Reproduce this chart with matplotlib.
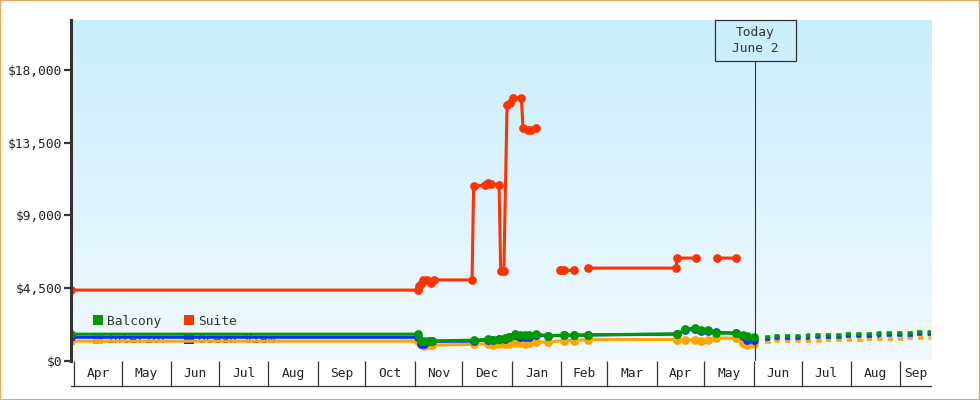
import numpy as np
import matplotlib
matplotlib.use('Agg')
import matplotlib.pyplot as plt
import matplotlib.dates as mdates
import matplotlib.transforms as mtransforms
from matplotlib.colors import LinearSegmentedColormap
from matplotlib.lines import Line2D
from matplotlib.patches import Rectangle
from matplotlib.ticker import FuncFormatter, FixedLocator

# dates where one of the cheaper cabins changed price
cabin_dates = np.array([
    '2023-03-30', '2023-11-03', '2023-11-05', '2023-11-07', '2023-11-10', '2023-11-12',
    '2023-12-08', '2023-12-17', '2023-12-20', '2023-12-24', '2023-12-28', '2023-12-30',
    '2024-01-03', '2024-01-06', '2024-01-09', '2024-01-12', '2024-01-16', '2024-01-24',
    '2024-02-03', '2024-02-09', '2024-02-18', '2024-04-14', '2024-04-19', '2024-04-25',
    '2024-04-29', '2024-05-03', '2024-05-08', '2024-05-21', '2024-05-25', '2024-05-28',
    '2024-06-01'], dtype='datetime64[D]')
balcony = [1634, 1634, 1200, 1180, 1230, 1222,
           1260, 1320, 1300, 1365, 1400, 1480,
           1620, 1560, 1560, 1560, 1620, 1550,
           1577, 1577, 1595, 1650, 1950, 2010,
           1905, 1905, 1700, 1700, 1595, 1490,
           1450]
ocean_view = [1440, 1440, 1050, 1050, 1190, 1190,
              1200, 1280, 1260, 1320, 1350, 1430,
              1560, 1480, 1450, 1480, 1560, 1530,
              1560, 1560, 1580, 1640, 1900, 1950,
              1850, 1850, 1738, 1700, 1550, 1300,
              1300]
interior = [1200, 1200, 1000, 900, 950, 960,
            1000, 1050, 960, 1000, 1050, 1000,
            1100, 1100, 1000, 1100, 1150, 1150,
            1240, 1240, 1300, 1300, 1285, 1285,
            1230, 1285, 1390, 1390, 1080, 975,
            1037]

# suite, nan = not on sale
suite_dates = np.array([
    '2023-03-30', '2023-11-03', '2023-11-04', '2023-11-05', '2023-11-06', '2023-11-09',
    '2023-11-11', '2023-11-13', '2023-12-07', '2023-12-08', '2023-12-15', '2023-12-17',
    '2023-12-19', '2023-12-24', '2023-12-25', '2023-12-27', '2023-12-29', '2023-12-31',
    '2024-01-02', '2024-01-07', '2024-01-08', '2024-01-11', '2024-01-13', '2024-01-16',
    '2024-01-24', '2024-01-31', '2024-02-01', '2024-02-03', '2024-02-09', '2024-02-12',
    '2024-02-18', '2024-04-13', '2024-04-14', '2024-04-26', '2024-05-01', '2024-05-09',
    '2024-05-21'], dtype='datetime64[D]')
suite = [4370, 4370, 4600, 4760, 4965, 5000,
         4820, 5000, 5000, 10800, 10900, 11000,
         10950, 10900, 5570, 5570, 15870, 16010,
         16290, 16290, 14440, 14320, 14320, 14440,
         np.nan, 5590, 5590, 5590, 5600, np.nan,
         5735, 5735, 6356, 6356, np.nan, 6356,
         6356]

# projected prices after today
forecast_dates = np.array([
    '2024-06-08', '2024-06-11', '2024-06-12', '2024-07-05', '2024-07-14', '2024-07-27',
    '2024-08-08', '2024-08-18', '2024-09-04', '2024-09-09', '2024-09-21'], dtype='datetime64[D]')
balcony_forecast = [1450, 1450, 1510, 1595, 1595, 1657, 1657, 1700, 1700, 1760, 1760]
ocean_view_forecast = [1340, 1340, 1400, 1485, 1485, 1547, 1547, 1590, 1590, 1650, 1650]
interior_forecast = [1140, 1222, 1222, 1222, 1285, 1285, 1328, 1328, 1390, 1390, 1390]

today = np.datetime64('2024-06-02')
today_text = 'Today\nJune 2'
month_starts = np.arange('2023-04', '2024-10', dtype='datetime64[M]').astype('datetime64[D]')
y_ticks = [0, 4500, 9000, 13500, 18000]

GREEN = '#009900'
BLUE = '#0033ff'
ORANGE = '#ffa500'
RED = '#ff3300'
INK = '#333333'
FONT = 'DejaVu Sans Mono'

plt.rcParams['font.family'] = FONT
plt.rcParams['font.size'] = 9.3

fig = plt.figure(figsize=(9.8, 4), dpi=100)
ax = fig.add_axes([71 / 980, 39.5 / 400, 860 / 980, 340.5 / 400])

x_left = mdates.date2num(np.datetime64('2023-04-01')) - 1.9
x_right = x_left + 540.2
ax.set_xlim(x_left, x_right)
ax.set_ylim(0, 21130)

# background gradient
grad = LinearSegmentedColormap.from_list('sky', ['#f0f9fe', '#c9eefc'])
ax.imshow(np.linspace(0, 1, 256).reshape(-1, 1), cmap=grad, origin='lower', aspect='auto',
          extent=(0, 1, 0, 1), transform=ax.transAxes, zorder=0)

line_kw = dict(lw=2.2, marker='o', ms=6.3, markeredgewidth=0, solid_capstyle='butt')
ax.plot(cabin_dates, interior, color=ORANGE, zorder=3, **line_kw)
ax.plot(cabin_dates, ocean_view, color=BLUE, zorder=4, **line_kw)
ax.plot(cabin_dates, balcony, color=GREEN, zorder=5, **line_kw)
ax.plot(suite_dates, suite, color=RED, zorder=6, **line_kw)

dash_kw = dict(lw=2.6, drawstyle='steps-post', linestyle=(0, (1.45, 1.45)))
ax.plot(forecast_dates, interior_forecast, color=ORANGE, zorder=3, **dash_kw)
ax.plot(forecast_dates, ocean_view_forecast, color=BLUE, zorder=4, **dash_kw)
ax.plot(forecast_dates, balcony_forecast, color=GREEN, zorder=5, **dash_kw)

# today marker with its box
box_bottom = 0.8805
ax.axvline(today, ymin=0, ymax=box_bottom, color=INK, lw=0.8, zorder=7)
blend = mtransforms.blended_transform_factory(ax.transData, ax.transAxes)
t = mdates.date2num(today)
ax.add_patch(Rectangle((t - 25.3, box_bottom), 50.6, 1 - box_bottom, transform=blend,
                       fill=False, ec=INK, lw=0.9, zorder=7, clip_on=False))
ax.text(t, (1 + box_bottom) / 2, today_text, transform=blend, ha='center', va='center',
        color=INK, linespacing=1.35, zorder=8)

# axes styling
for side in ['top', 'right', 'bottom']:
    ax.spines[side].set_visible(False)
ax.spines['left'].set_linewidth(2.2)
ax.spines['left'].set_color(INK)
ax.spines['left'].set_zorder(9)

ax.yaxis.set_major_locator(FixedLocator(y_ticks))
ax.yaxis.set_major_formatter(FuncFormatter(lambda v, p: f'${v:,.0f}'))
ax.tick_params(axis='y', length=5, width=1.6, color=INK, pad=1.5, labelcolor='#222222')

# month boxes under the plot
starts = mdates.date2num(month_starts)
edges = np.append(starts, starts[-1] + 31)
mids = [(max(a, x_left) + min(b, x_right)) / 2 for a, b in zip(edges[:-1], edges[1:])]
ax.xaxis.set_major_locator(FixedLocator(mids))
ax.xaxis.set_major_formatter(FuncFormatter(
    lambda v, p: mdates.num2date(v).strftime('%b')))
ax.xaxis.set_minor_locator(FixedLocator(starts))
ax.tick_params(axis='x', which='major', length=0, pad=5, labelcolor='#222222')
ax.tick_params(axis='x', which='minor', length=18, width=0.9, color=INK, direction='out')
ax.add_line(Line2D([0, 1], [-25 / 340.5, -25 / 340.5], transform=ax.transAxes,
                   color=INK, lw=0.9, clip_on=False))

handles = [Line2D([], [], color=c, marker='s', ms=7.5, lw=0, markeredgewidth=0)
           for c in [GREEN, ORANGE, RED, BLUE]]
leg = ax.legend(handles, ['Balcony', 'Interior', 'Suite', 'Ocean View'], ncol=2,
                loc='center left', bbox_to_anchor=(0.024, 0.088), frameon=False,
                handlelength=1.0, handletextpad=0.2, columnspacing=1.05,
                labelspacing=0.45, borderpad=0, borderaxespad=0)
for txt in leg.get_texts():
    txt.set_color(INK)
leg.set_zorder(1)

fig.add_artist(Rectangle((0, 0), 1, 1, transform=fig.transFigure, fill=False,
                         ec='#e8a862', lw=1.6))

fig.savefig('out.png', dpi=100)
